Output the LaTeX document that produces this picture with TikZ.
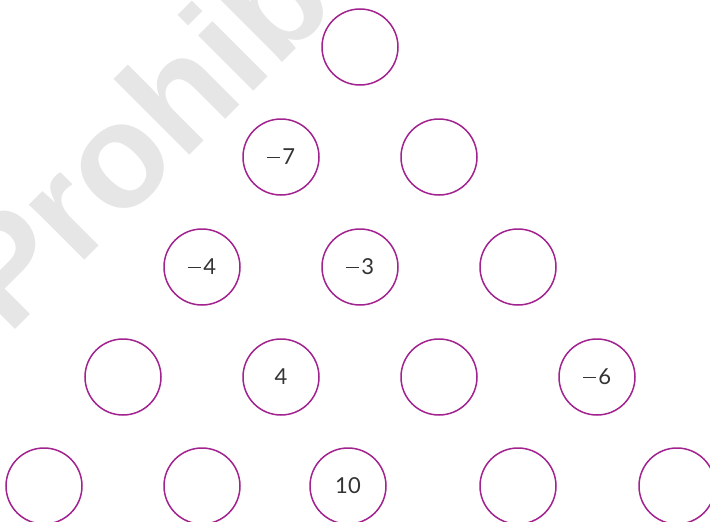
\documentclass[tikz,border=0pt]{standalone}
\usepackage{fontspec}
\newfontfamily\numfont{Lato}
\newfontfamily\wmfont{Liberation Sans}
\definecolor{ring}{HTML}{A2238F}
\definecolor{numgray}{HTML}{333333}
\definecolor{wmgray}{HTML}{E6E6E6}
\newcommand{\mn}{\rule[0.3em]{0.58em}{0.06em}\kern0.12em}
\begin{document}
\begin{tikzpicture}[x=1pt,y=-1pt,
  cell/.style={circle,draw=ring,line width=1.5pt,minimum size=76pt,inner sep=0pt,
    text=numgray,font=\numfont\fontsize{22}{22}\selectfont}]
\useasboundingbox (0,0) rectangle (710,522);
\begin{scope}
\clip (0,0) rectangle (710,522);
\node[wmgray,font=\wmfont\bfseries\fontsize{148}{148}\selectfont,rotate=45,anchor=base west,inner sep=0pt]
  (wm) at (8,337) {Prohibida su reproducción};
\end{scope}
% row 1
\node[cell] (a1) at (360,47) {};
% row 2
\node[cell] (b1) at (281,157) {\mn 7};
\node[cell] (b2) at (439,157) {};
% row 3
\node[cell] (c1) at (202,267) {\mn 4};
\node[cell] (c2) at (360,267) {\mn 3};
\node[cell] (c3) at (518,267) {};
% row 4
\node[cell] (d1) at (123,377) {};
\node[cell] (d2) at (281,377) {4};
\node[cell] (d3) at (439,377) {};
\node[cell] (d4) at (597,377) {\mn 6};
% row 5
\node[cell] (e1) at (44,486) {};
\node[cell] (e2) at (202,486) {};
\node[cell] (e3) at (348,486) {10};
\node[cell] (e4) at (518,486) {};
\node[cell] (e5) at (677,486) {};
\end{tikzpicture}
\end{document}
